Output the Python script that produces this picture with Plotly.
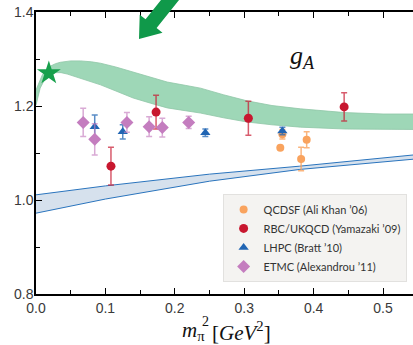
import plotly.graph_objects as go

# ---------------- data ----------------
# green band (chiral fit)
band_g_x_up = [0, 0.005, 0.009, 0.015, 0.021, 0.028, 0.035, 0.050, 0.064, 0.080, 0.093, 0.115, 0.140, 0.165, 0.189, 0.215, 0.237, 0.270, 0.304, 0.340, 0.381, 0.445, 0.500, 0.545]
band_g_y_up = [1.234, 1.252, 1.266, 1.277, 1.285, 1.290, 1.293, 1.296, 1.296, 1.294, 1.291, 1.283, 1.272, 1.261, 1.251, 1.244, 1.238, 1.224, 1.211, 1.201, 1.194, 1.186, 1.183, 1.183]
band_g_x_lo = [0, 0.003, 0.006, 0.012, 0.018, 0.028, 0.036, 0.045, 0.065, 0.093, 0.115, 0.140, 0.165, 0.189, 0.215, 0.237, 0.270, 0.304, 0.340, 0.381, 0.445, 0.500, 0.545]
band_g_y_lo = [1.202, 1.222, 1.238, 1.255, 1.265, 1.271, 1.271, 1.268, 1.259, 1.245, 1.232, 1.217, 1.206, 1.196, 1.190, 1.185, 1.175, 1.166, 1.160, 1.155, 1.151, 1.150, 1.150]

# blue band
band_b_x = [0, 0.1, 0.25, 0.38, 0.545]
band_b_up = [1.011, 1.030, 1.055, 1.072, 1.096]
band_b_lo = [0.972, 1.002, 1.040, 1.065, 1.087]

# physical point (star)
star_x = [0.0185]
star_y = [1.270]

# lattice data
qcdsf_x = [0.352, 0.355, 0.382, 0.390]
qcdsf_y = [1.111, 1.140, 1.087, 1.128]
qcdsf_e = [0.0, 0.010, 0.025, 0.017]

rbc_x = [0.108, 0.173, 0.306, 0.444]
rbc_y = [1.072, 1.187, 1.174, 1.198]
rbc_e = [0.040, 0.036, 0.036, 0.030]

lhpc_x = [0.0846, 0.125, 0.244, 0.355]
lhpc_y = [1.156, 1.145, 1.143, 1.147]
lhpc_e = [0.025, 0.015, 0.008, 0.008]

etmc_x = [0.068, 0.0846, 0.131, 0.163, 0.182, 0.220]
etmc_y = [1.165, 1.129, 1.165, 1.156, 1.154, 1.165]
etmc_e = [0.030, 0.033, 0.021, 0.021, 0.020, 0.013]

x_ticks = [0.0, 0.1, 0.2, 0.3, 0.4, 0.5]
x_tick_text = ["0.0", "0.1", "0.2", "0.3", "0.4", "0.5"]
y_ticks = [0.8, 1.0, 1.2, 1.4]
y_tick_text = ["0.8", "1.0", "1.2", "1.4"]

# ---------------- figure ----------------
W, H = 413, 345
ML, MR, MT, MB = 36, 0, 12, 51

fig = go.Figure()

# blue band
fig.add_trace(go.Scatter(x=band_b_x, y=band_b_lo, mode="lines",
                         line=dict(color="#2a74bd", width=1), showlegend=False, hoverinfo="skip"))
fig.add_trace(go.Scatter(x=band_b_x, y=band_b_up, mode="lines", fill="tonexty",
                         fillcolor="#d6e1ed", line=dict(color="#2a74bd", width=1),
                         showlegend=False, hoverinfo="skip"))

# green band
fig.add_trace(go.Scatter(x=band_g_x_lo, y=band_g_y_lo, mode="lines",
                         line=dict(color="#8fc7a7", width=0.8), showlegend=False, hoverinfo="skip"))
fig.add_trace(go.Scatter(x=band_g_x_up, y=band_g_y_up, mode="lines",
                         fill="tonexty", fillcolor="rgba(120,200,155,0.72)",
                         line=dict(color="#8fc7a7", width=0.8), showlegend=False, hoverinfo="skip"))


def pts(name, x, y, e, color, ecolor, symbol, size):
    return go.Scatter(
        x=x, y=y, mode="markers", name=name,
        marker=dict(color=color, symbol=symbol, size=size, line=dict(width=0)),
        error_y=dict(type="data", array=e, visible=True, color=ecolor, thickness=1.5, width=3),
    )


fig.add_trace(pts("QCDSF (Ali Khan \u201906)", qcdsf_x, qcdsf_y, qcdsf_e,
                  "#f9a35e", "rgba(249,163,94,0.8)", "circle", 8))
fig.add_trace(pts("RBC/UKQCD (Yamazaki \u201909)", rbc_x, rbc_y, rbc_e,
                  "#c8172f", "rgba(200,23,47,0.7)", "circle", 9))
fig.add_trace(pts("LHPC (Bratt \u201910)", lhpc_x, lhpc_y, lhpc_e,
                  "#2165b3", "rgba(33,101,179,0.75)", "triangle-up", 9))
fig.add_trace(pts("ETMC (Alexandrou \u201911)", etmc_x, etmc_y, etmc_e,
                  "#c47dbf", "rgba(196,125,191,0.65)", "diamond", 10))

# physical point
fig.add_trace(go.Scatter(x=star_x, y=star_y, mode="markers", showlegend=False,
                         marker=dict(symbol="star", size=18, color="#17a04c", line=dict(width=0))))

# ---------------- arrow (decoration, pixel geometry -> paper coords) ----------------
pw, ph = W - ML - MR, H - MT - MB
def to_paper(px, py):
    return ((px - ML) / pw, (H - MB - py) / ph)

arrow_px = [(139, 39), (162.5, 32.7), (156.6, 28.1), (194.3, -19.2), (183.3, -28.0),
            (145.6, 19.3), (139.7, 14.7)]
path = "M " + " L ".join("%.4f,%.4f" % to_paper(*p) for p in arrow_px) + " Z"
fig.add_shape(type="path", path=path, xref="paper", yref="paper",
              fillcolor="#10994a", line=dict(width=0), layer="above")

# g_A label
fig.add_annotation(x=0.384, y=1.305, xref="x", yref="y", showarrow=False,
                   text="<i>g</i><sub><i>A</i></sub>",
                   font=dict(family="Liberation Serif", size=26, color="#111"))

# x-axis title (m_pi^2 stacked sub/sup)
tx, ty = to_paper(207, 331)
fig.add_annotation(x=tx, y=ty, xref="paper", yref="paper", showarrow=False,
                   xanchor="right", yanchor="middle",
                   text="<i>m</i><sub>π</sub>",
                   font=dict(family="Liberation Serif", size=21, color="#111"))
sx, sy = to_paper(205, 321)
fig.add_annotation(x=sx, y=sy, xref="paper", yref="paper", showarrow=False,
                   xanchor="center", yanchor="middle", text="2",
                   font=dict(family="Liberation Serif", size=14, color="#111"))
gx, gy = to_paper(210, 331)
fig.add_annotation(x=gx, y=gy, xref="paper", yref="paper", showarrow=False,
                   xanchor="left", yanchor="middle",
                   text="[<i>GeV</i><sup>2</sup>]",
                   font=dict(family="Liberation Serif", size=21, color="#111"))

axis_common = dict(
    showline=True, linecolor="black", linewidth=1.5,
    ticks="inside", ticklen=6, tickwidth=1.2, tickcolor="black",
    showgrid=False, zeroline=False,
    tickfont=dict(family="Liberation Sans", size=14, color="#3a3a3a"),
)

fig.update_xaxes(range=[0, 0.5432], tickvals=x_ticks, ticktext=x_tick_text, mirror="ticks",
                 ticklabelstandoff=0,
                 minor=dict(ticks="inside", ticklen=4, dtick=0.05, tickcolor="black", tickwidth=1.2),
                 **axis_common)
fig.update_yaxes(range=[0.8, 1.4], tickvals=y_ticks, ticktext=y_tick_text, mirror=False,
                 ticklabelstandoff=-2,
                 minor=dict(ticks="inside", ticklen=4, dtick=0.1, tickcolor="black", tickwidth=1.2),
                 **axis_common)

fig.update_layout(
    width=W, height=H,
    margin=dict(l=ML, r=MR, t=MT, b=MB, pad=0),
    plot_bgcolor="white", paper_bgcolor="white",
    legend=dict(x=0.495, y=0.355, xanchor="left", yanchor="top", traceorder="normal",
                bgcolor="#f4f3f1", bordercolor="#e2e1df", borderwidth=1,
                font=dict(family="Lato", size=11, color="#333"),
                itemsizing="trace", tracegroupgap=0),
)

fig.write_html("out.html", config={"displayModeBar": False},
               post_script="document.body.style.margin='0px';")
